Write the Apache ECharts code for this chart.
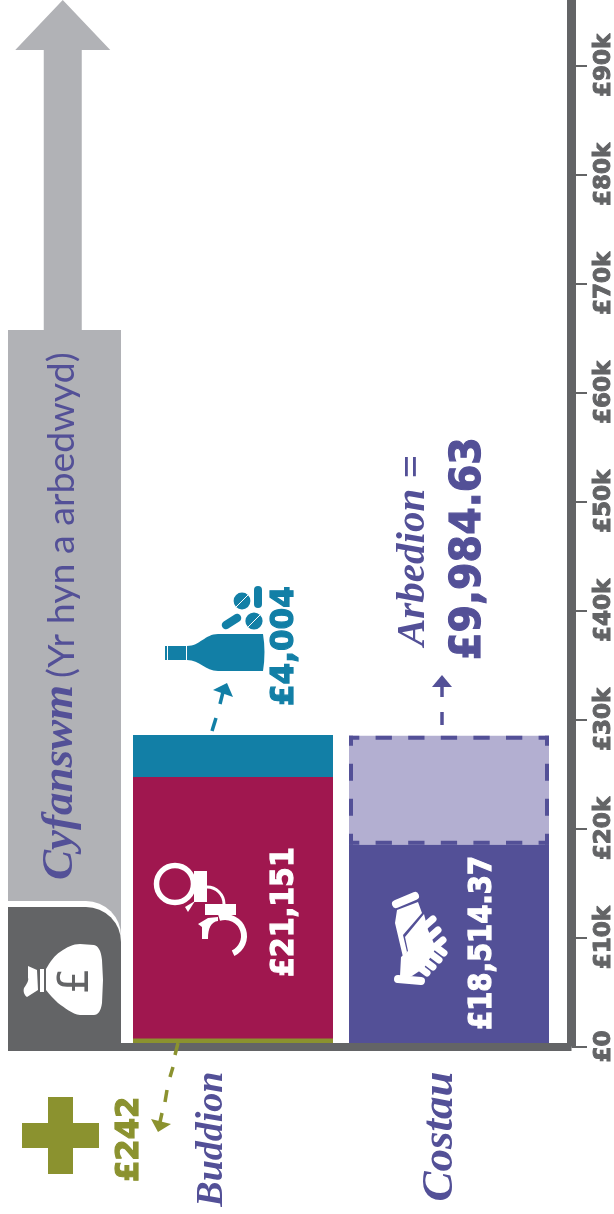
<!DOCTYPE html>
<html>
<head>
<meta charset="utf-8">
<style>
  html, body { margin: 0; padding: 0; background: #fff; }
  #chart { width: 614px; height: 1214px; }
</style>
</head>
<body>
<div id="chart"></div>
<script src="https://cdn.jsdelivr.net/npm/echarts@6/dist/echarts.min.js"></script>
<script>
// 数据（从图上读取，条的高度按图形本身读，不是按标签文字）
const categories = ['Buddion', 'Costau']
const totalCategory = ['Cyfanswm']
const tickValues = [0, 10000, 20000, 30000, 40000, 50000, 60000, 70000, 80000, 90000]
const totalValue = [65730]
const totalBaseValue = [12800]
const smallBenefit = [242, null]
const crimeBenefit = [24480, null]
const drugBenefit = [3860, null]
const costValue = [null, 18514.37]
const savingValue = [null, 9984.63]
const labelTexts = {
  crime: '£21,151',
  drug: '£4,004',
  small: '£242',
  cost: '£18,514.37',
  saving: '£9,984.63',
  savingTitle: 'Arbedion =',
  totalTitle: 'Cyfanswm',
  totalSub: '(Yr hyn a arbedwyd)'
}

const AXIS_MAX = 96000
const BAR_WIDTH = 200
const GREY = '#b1b2b6'
const DARK = '#636466'
const PURPLE = '#535097'
const LILAC = '#b3afd1'
const CRIMSON = '#a0174f'
const TEAL = '#127fa6'
const OLIVE = '#8b922f'
const NUM_FONT = '"DejaVu Sans"'
const HAND_FONT = '"Liberation Serif"'

const gridTop = 0
const gridBottom = 1214 - 1046.5

function numText (text, x, y, size, color, scale) {
  return {
    type: 'text',
    x: x,
    y: y,
    rotation: Math.PI / 2,
    scaleX: scale,
    style: {
      text: text,
      fill: color,
      stroke: color,
      lineWidth: 1.2,
      font: 'bold ' + size + 'px ' + NUM_FONT,
      align: 'left',
      verticalAlign: 'middle'
    }
  }
}
function handText (text, x, y, size, color) {
  return {
    type: 'text',
    x: x,
    y: y,
    rotation: Math.PI / 2,
    style: { text: text, fill: color, font: 'italic bold ' + size + 'px ' + HAND_FONT, align: 'left', verticalAlign: 'middle' }
  }
}
function path (d, fill) {
  return { type: 'path', shape: { pathData: d }, style: { fill: fill } }
}
function seg (x1, y1, x2, y2, color, w) {
  return {
    type: 'line',
    shape: { x1: x1, y1: y1, x2: x2, y2: y2 },
    style: { stroke: color, lineWidth: w, lineCap: 'round', fill: null }
  }
}
function butt (x1, y1, x2, y2, color, w) {
  const s = seg(x1, y1, x2, y2, color, w)
  s.style.lineCap = 'butt'
  return s
}
function circle (cx, cy, r, fill) {
  return { type: 'circle', shape: { cx: cx, cy: cy, r: r }, style: { fill: fill } }
}
function ring (cx, cy, r, color, w, a0, a1) {
  return {
    type: 'arc',
    shape: { cx: cx, cy: cy, r: r, startAngle: a0, endAngle: a1, clockwise: true },
    style: { stroke: color, lineWidth: w, fill: null }
  }
}
function dashed (x1, y1, x2, y2, dash, offset) {
  return {
    type: 'line',
    shape: { x1: x1, y1: y1, x2: x2, y2: y2 },
    style: { stroke: PURPLE, lineWidth: 4, lineDash: dash, lineDashOffset: offset, fill: null }
  }
}

const annotations = [
  // 文字
  numText(labelTexts.crime, 285, 977, 32, '#fff', 0.89),
  numText(labelTexts.cost, 482.5, 1030, 32, '#fff', 0.86),
  numText(labelTexts.drug, 285, 706, 32, TEAL, 0.97),
  numText(labelTexts.small, 130, 1182, 32, OLIVE, 0.96),
  numText(labelTexts.saving, 469, 660, 43, PURPLE, 0.92),
  handText(labelTexts.savingTitle, 413, 646, 41, PURPLE),
  handText(labelTexts.totalTitle, 60, 880, 45, PURPLE),
  {
    type: 'text',
    x: 62,
    y: 678,
    rotation: Math.PI / 2,
    style: { text: labelTexts.totalSub, fill: PURPLE, font: '37.5px Lato', align: 'left', verticalAlign: 'middle' }
  },

  // 加号
  path('M22,1123 L48,1123 L48,1097 L73,1097 L73,1123 L99,1123 L99,1148 L73,1148 L73,1174 L48,1174 L48,1148 L22,1148 Z', OLIVE),

  // 虚线箭头
  butt(178, 1043, 175, 1055, OLIVE, 3.5),
  butt(173, 1067, 170, 1077, OLIVE, 3.5),
  butt(167, 1090, 165, 1102, OLIVE, 3.5),
  butt(162, 1113, 160, 1122, OLIVE, 3.5),
  path('M151,1119 L171,1124 L158,1132 Z', OLIVE),
  butt(216, 718, 212, 731, TEAL, 3.5),
  butt(223, 692, 220, 704, TEAL, 3.5),
  path('M213,690 L227,683 L233,697 Z', TEAL),
  butt(442, 712, 442, 725, PURPLE, 3.5),
  butt(442, 687, 442, 697, PURPLE, 3.5),
  path('M432,687 L442,675 L452,687 Z', PURPLE),

  // 酒瓶
  path('M263,634 Q266,652 263,671 L218,671 C205,671 200,660 187,660 L187,646 C200,646 205,634 218,634 Z', TEAL),
  path('M168,646 L186,646 L186,660 L168,660 Z', TEAL),
  path('M165,646 L167,646 L167,660 L165,660 Z', TEAL),
  // 药片
  circle(242, 601, 8.4, TEAL),
  seg(236, 607, 248, 595, '#fff', 1),
  circle(254, 621, 8.6, TEAL),
  seg(248, 627, 260, 615, '#fff', 1),
  seg(258, 590, 258, 604, TEAL, 8),
  seg(226, 625, 237, 618, TEAL, 8.5),

  // 钱袋
  path('M46,969 C50,962 55,955 60,952 C67,947 73,944 80,944 L94,945 C98,946 101,950 102,960 L103,980 L102,1003 C101,1011 98,1015 94,1015 L80,1015 C72,1014 65,1008 58,1003 C53,998 49,994 46,990 Z', '#fff'),
  path('M40,969 L44,969 L44,992 L40,992 Z', '#fff'),
  path('M28,966 L37,970 L38,990 L27,997 C24,995 23,991 24,988 C27,984 29,980 28,978 Z', '#fff'),
  {
    type: 'text',
    x: 77,
    y: 981,
    rotation: Math.PI / 2,
    style: { text: '£', fill: DARK, font: '42px "DejaVu Sans"', align: 'center', verticalAlign: 'middle' }
  },

  // 手铐
  ring(175, 884, 18.5, '#fff', 5.5, 0, Math.PI * 2),
  path('M194,871 L207,871 L207,902 L194,902 Z', '#fff'),
  path('M185,907 L195,901 L188,912 Z', '#fff'),
  {
    type: 'arc',
    shape: { cx: 207, cy: 904, r: 17, startAngle: -Math.PI / 2, endAngle: 0, clockwise: true },
    style: { stroke: '#fff', lineWidth: 3, fill: null }
  },
  path('M205,904 L236,904 L236,915 L205,915 Z', '#fff'),
  ring(225, 936, 19, '#fff', 6, -Math.PI * 0.6, Math.PI * 0.36),
  path('M198,924 L208,918 L218,917 L218,921 C211,922 208,928 208,939 L202,939 L202,927 Z', '#fff'),

  // 握手
  seg(396, 904, 415, 896, '#fff', 8),
  seg(398, 979, 421, 981, '#fff', 8),
  path('M397,910 L418,902 L422,913 L403,935 L407,952 L403,957 L395,923 Z', '#fff'),
  path('M400,976 L401,957 L408,951 L405,937 L424,914 L428,930 L436,948 L424,968 L412,976 Z', '#fff'),
  seg(425, 926, 433, 919, '#fff', 7),
  seg(430, 937, 438, 930, '#fff', 7),
  seg(436, 946, 443, 940, '#fff', 7),
  seg(436, 947, 444, 953, '#fff', 7),
  seg(431, 954, 439, 960, '#fff', 7),
  seg(425, 961, 433, 967, '#fff', 7),
  seg(419, 967, 427, 973, '#fff', 7)
]

const chart = echarts.init(document.getElementById('chart'), null, { renderer: 'canvas' })

chart.setOption({
  animation: false,
  backgroundColor: '#fff',
  grid: [
    // 0: 坐标轴框架  1: 左边总计  2: 两根主柱
    { left: 8, right: 614 - 571.5, top: gridTop, bottom: gridBottom, outerBoundsMode: 'none' },
    { left: 8, width: 113, top: gridTop, bottom: gridBottom, outerBoundsMode: 'none' },
    { left: 125, width: 432, top: gridTop, bottom: gridBottom, outerBoundsMode: 'none' }
  ],
  xAxis: [
    {
      gridIndex: 0,
      type: 'category',
      data: [''],
      z: 6,
      axisLine: { lineStyle: { color: DARK, width: 8, cap: 'butt' } },
      axisTick: { show: false },
      axisLabel: { show: false }
    },
    {
      gridIndex: 1,
      type: 'category',
      data: totalCategory,
      axisLine: { show: false },
      axisTick: { show: false },
      axisLabel: { show: false }
    },
    {
      gridIndex: 2,
      type: 'category',
      data: categories,
      axisLine: { show: false },
      axisTick: { show: false },
      axisLabel: {
        rotate: 90,
        margin: 25,
        formatter: function (value) {
          return '{' + (value === 'Buddion' ? 'a' : 'b') + '|' + value + '}'
        },
        rich: {
          a: { color: PURPLE, fontFamily: HAND_FONT, fontStyle: 'italic', fontWeight: 'bold', fontSize: 38, padding: [0, 0, 42, 0] },
          b: { color: PURPLE, fontFamily: HAND_FONT, fontStyle: 'italic', fontWeight: 'bold', fontSize: 45, padding: [0, 0, 18, 0] }
        }
      }
    }
  ],
  yAxis: [
    {
      gridIndex: 0,
      type: 'value',
      position: 'right',
      min: 0,
      max: AXIS_MAX,
      z: 6,
      splitLine: { show: false },
      axisLine: { show: true, lineStyle: { color: DARK, width: 9, cap: 'butt' } },
      axisTick: { show: true, length: 15.5, customValues: tickValues, lineStyle: { color: DARK, width: 2 } },
      axisLabel: {
        customValues: tickValues,
        rotate: 90,
        margin: 21,
        color: DARK,
        fontFamily: NUM_FONT,
        fontWeight: 'bold',
        fontSize: 23,
        textBorderColor: DARK,
        textBorderWidth: 1,
        formatter: function (v) {
          return v === 0 ? '£0' : '£' + v / 1000 + 'k'
        }
      }
    },
    { gridIndex: 1, type: 'value', min: 0, max: AXIS_MAX, show: false },
    { gridIndex: 2, type: 'value', min: 0, max: AXIS_MAX, show: false }
  ],
  series: [
    {
      name: 'Cyfanswm',
      type: 'bar',
      xAxisIndex: 1,
      yAxisIndex: 1,
      barWidth: 113,
      barGap: '-100%',
      itemStyle: { color: GREY },
      data: totalValue
    },
    {
      name: 'Cyfanswm base',
      type: 'bar',
      xAxisIndex: 1,
      yAxisIndex: 1,
      barWidth: 113,
      barGap: '-100%',
      itemStyle: {
        color: DARK,
        borderRadius: [0, 35, 0, 0],
        shadowColor: '#fff',
        shadowBlur: 0,
        shadowOffsetY: -6
      },
      data: totalBaseValue
    },
    {
      // 灰色箭头，从总计柱顶一直到图的上边
      name: 'Cyfanswm arrow',
      type: 'custom',
      xAxisIndex: 1,
      yAxisIndex: 1,
      data: totalValue.map(function (v, i) { return [i, v] }),
      silent: true,
      renderItem: function (params, api) {
        const base = api.coord([0, api.value(1)])
        const top = api.coord([0, AXIS_MAX])
        const cx = base[0] - 1.75
        const headY = top[1] + 50
        return {
          type: 'polygon',
          shape: {
            points: [
              [cx - 19, base[1]],
              [cx - 19, headY],
              [cx - 47.5, headY],
              [cx, top[1]],
              [cx + 47.5, headY],
              [cx + 19, headY],
              [cx + 19, base[1]]
            ]
          },
          style: { fill: GREY }
        }
      },
      encode: { x: 0, y: 1 }
    },
    {
      name: 'Buddion bach',
      type: 'bar',
      xAxisIndex: 2,
      yAxisIndex: 2,
      stack: 'buddion',
      barWidth: BAR_WIDTH,
      barMinHeight: 8,
      z: 4,
      itemStyle: { color: OLIVE },
      data: smallBenefit
    },
    {
      name: 'Trosedd',
      type: 'bar',
      xAxisIndex: 2,
      yAxisIndex: 2,
      stack: 'buddion',
      barWidth: BAR_WIDTH,
      itemStyle: { color: CRIMSON },
      data: crimeBenefit
    },
    {
      name: 'Cyffuriau',
      type: 'bar',
      xAxisIndex: 2,
      yAxisIndex: 2,
      stack: 'buddion',
      barWidth: BAR_WIDTH,
      itemStyle: { color: TEAL },
      data: drugBenefit
    },
    {
      name: 'Costau',
      type: 'bar',
      xAxisIndex: 2,
      yAxisIndex: 2,
      stack: 'costau',
      barWidth: BAR_WIDTH,
      barGap: '-100%',
      itemStyle: { color: PURPLE },
      data: costValue
    },
    {
      // 虚线框：填充贴边，虚线画在框内
      name: 'Arbedion',
      type: 'custom',
      xAxisIndex: 2,
      yAxisIndex: 2,
      silent: true,
      data: categories.map(function (c, i) {
        return [i, costValue[i], savingValue[i]]
      }),
      encode: { x: 0, y: 1 },
      renderItem: function (params, api) {
        if (api.value(2) == null || isNaN(api.value(2))) return null
        const low = api.coord([api.value(0), api.value(1)])
        const high = api.coord([api.value(0), api.value(1) + api.value(2)])
        const x0 = low[0] - BAR_WIDTH / 2
        const x1 = low[0] + BAR_WIDTH / 2
        const yTop = high[1]
        const yBot = low[1]
        const hDash = [16.3, 16.3]
        const vDash = [17, 18]
        return {
          type: 'group',
          children: [
            { type: 'rect', shape: { x: x0, y: yTop, width: BAR_WIDTH, height: yBot - yTop }, style: { fill: LILAC } },
            dashed(x0, yTop + 2, x1, yTop + 2, hDash, 6),
            dashed(x0, yBot - 2, x1, yBot - 2, hDash, 6),
            dashed(x0 + 2, yTop, x0 + 2, yBot, vDash, 7),
            dashed(x1 - 2, yTop, x1 - 2, yBot, vDash, 7)
          ]
        }
      }
    },
    {
      // 图标、箭头和标注文字
      name: 'annotations',
      type: 'custom',
      coordinateSystem: 'none',
      silent: true,
      z: 20,
      data: [0],
      renderItem: function () {
        return { type: 'group', children: annotations }
      }
    }
  ]
})

window.addEventListener('resize', function () {
  chart.resize()
})
</script>
</body>
</html>
